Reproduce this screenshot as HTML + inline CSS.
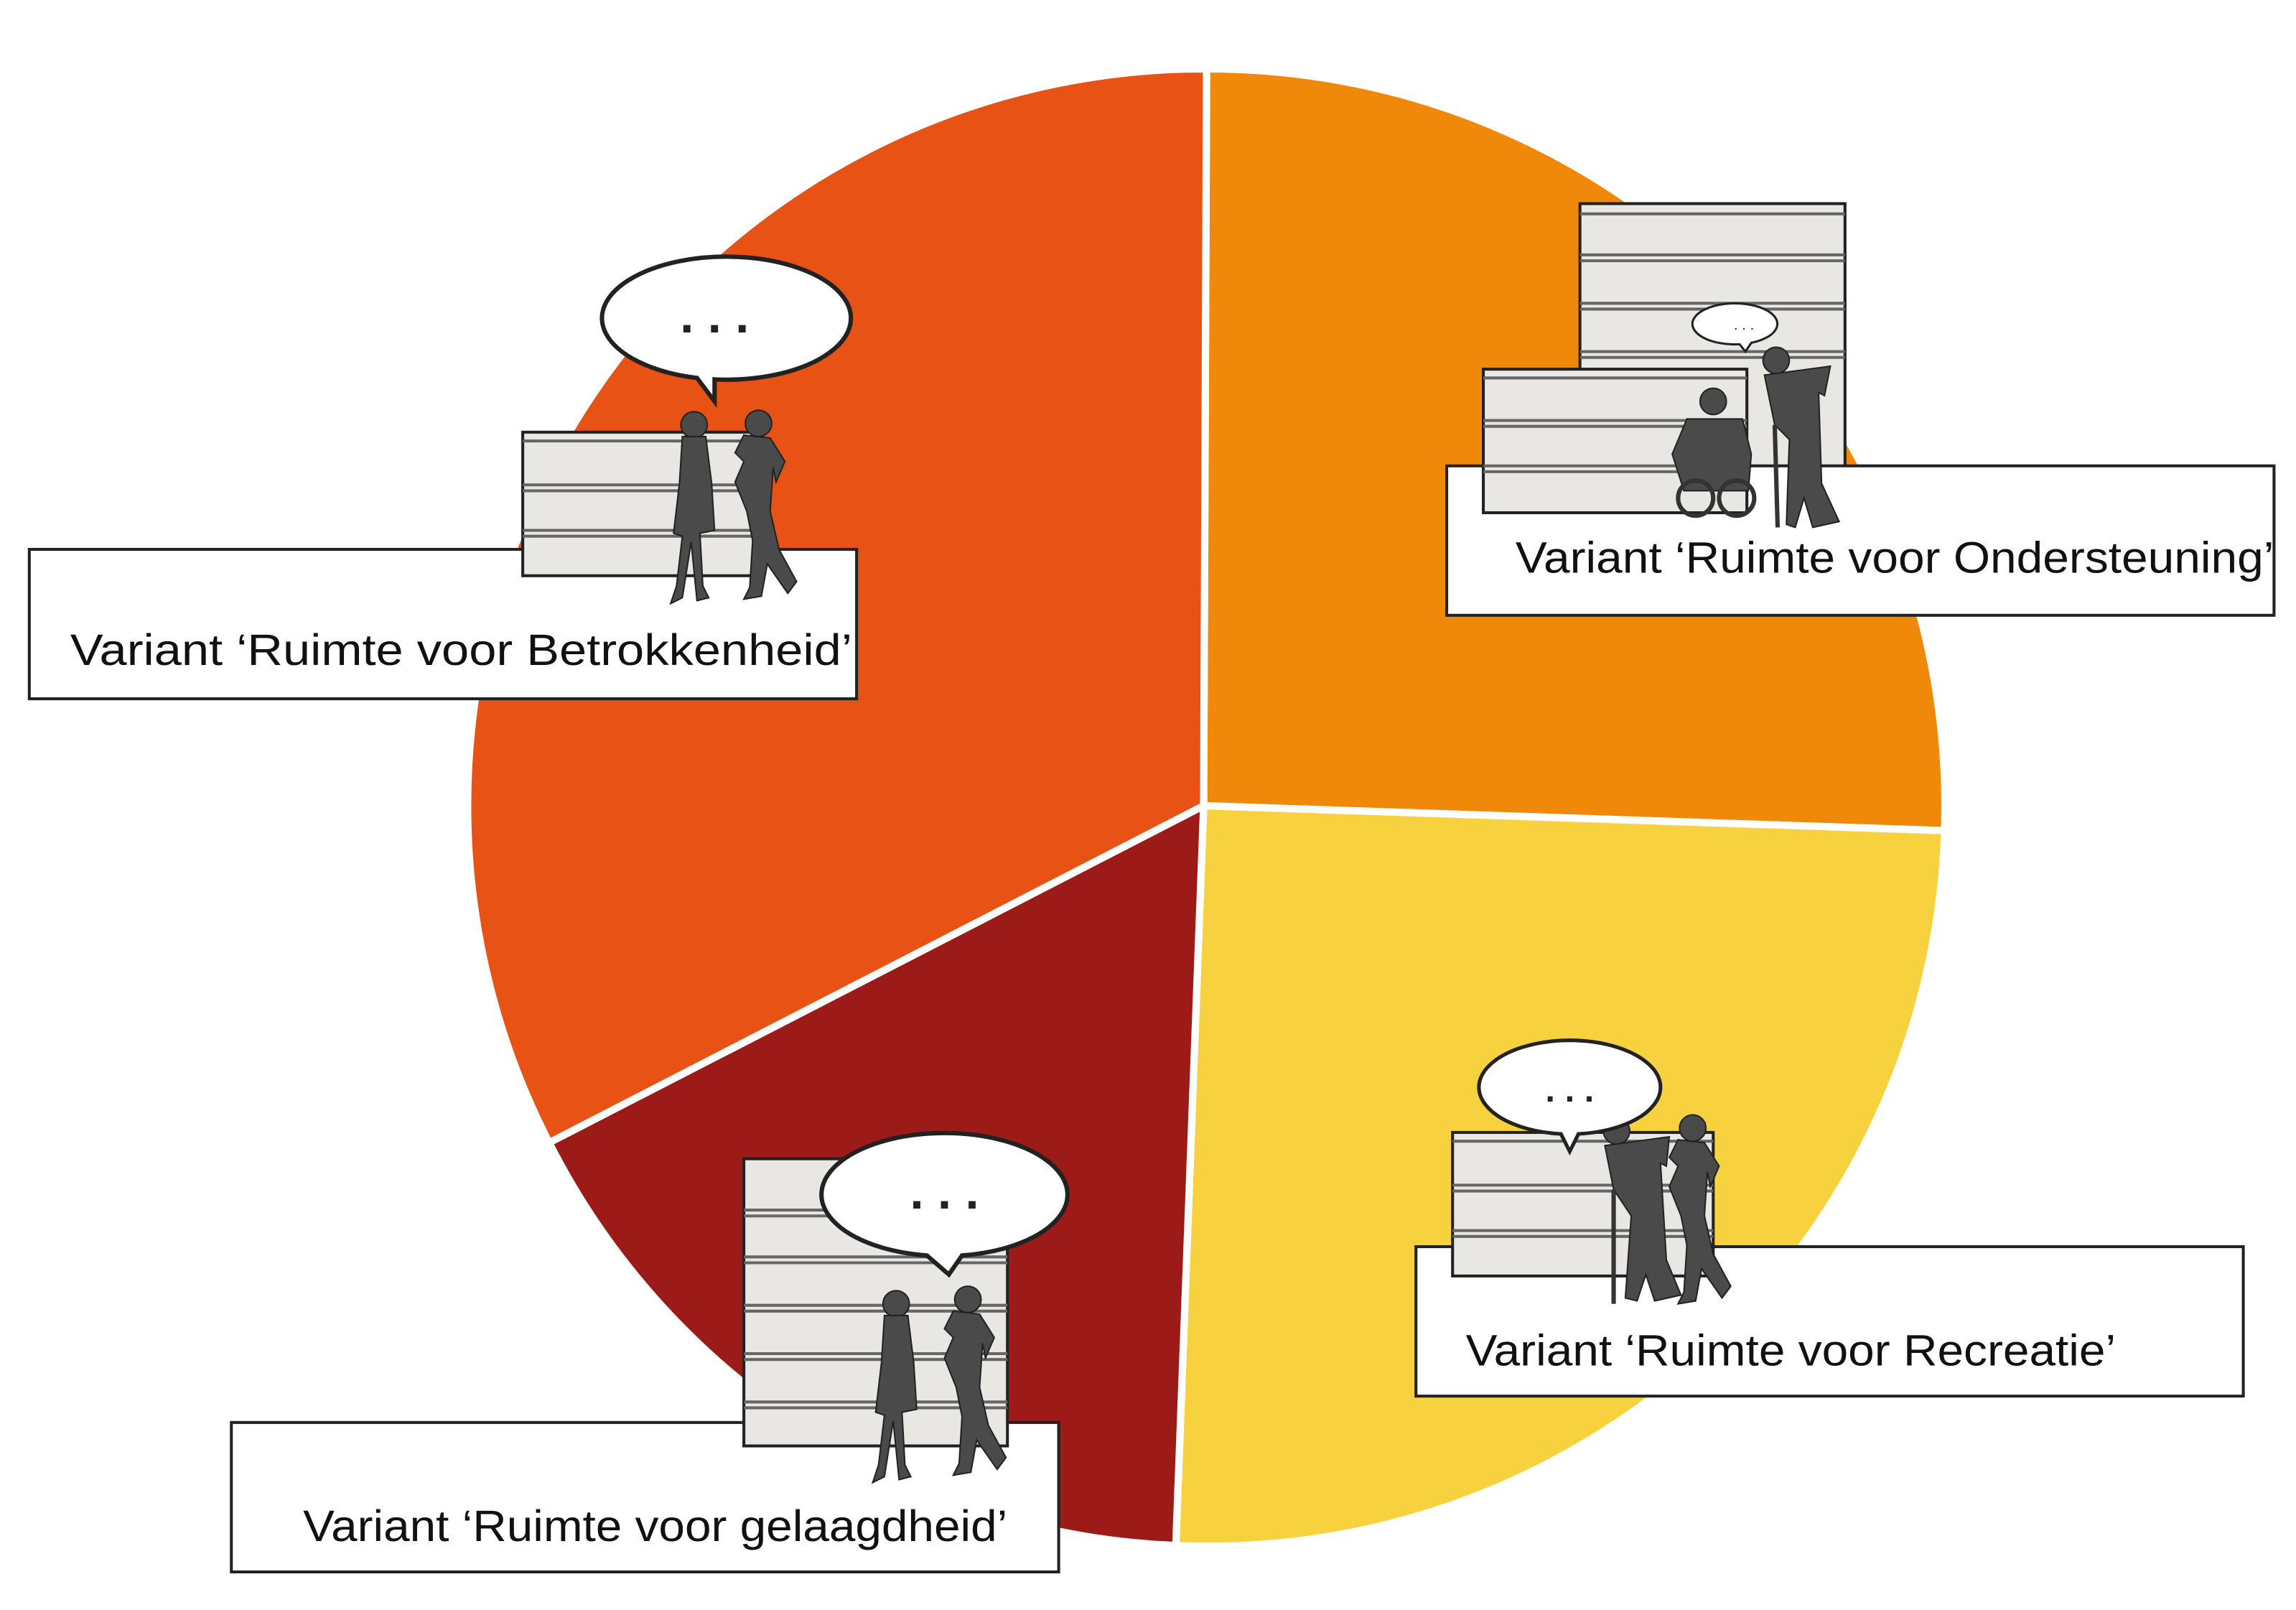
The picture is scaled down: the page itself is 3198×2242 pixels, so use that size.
<!DOCTYPE html>
<html><head><meta charset="utf-8"><style>
html,body{margin:0;padding:0;background:#fff;}
svg{display:block;}
text{font-family:"Liberation Sans",sans-serif;}
</style></head><body>
<svg width="3198" height="2242" viewBox="0 0 1568 1099" preserveAspectRatio="none" xmlns="http://www.w3.org/2000/svg">
<defs>
<g id="person1">
<circle cx="0" cy="0" r="9"/>
<path d="M-8,8 L8,8 L12,40 L14,72 L4,74 L6,110 L10,118 L2,120 L-2,80 L-8,118 L-16,122 L-12,110 L-8,76 L-14,74 L-10,40 Z"/>
</g>
<g id="person2">
<circle cx="0" cy="0" r="9"/>
<path d="M-10,8 L8,10 L18,26 L12,40 L10,30 L8,60 L14,86 L26,108 L20,116 L6,96 L2,118 L-10,120 L-6,112 L-4,80 L-8,60 L-16,40 L-10,26 L-16,20 Z"/>
</g>
</defs>

<g stroke="#fff" stroke-width="5">
<path d="M822,550 L824,47 A503,503 0 0 1 1328,567 Z" fill="#F0880A"/>
<path d="M822,550 L1328,567 A503,503 0 0 1 803,1055 Z" fill="#F8D23E"/>
<path d="M822,550 L803,1055 A503,503 0 0 1 375,780 Z" fill="#9C1A17"/>
<path d="M822,550 L375,780 A503,503 0 0 1 824,47 Z" fill="#E85214"/>
</g>

<!-- Betrokkenheid -->
<rect x="20" y="375" width="565" height="102" fill="#fff" stroke="#222" stroke-width="2"/>
<rect x="357" y="295" width="163" height="98" fill="#E8E7E4" stroke="#222" stroke-width="2"/>
<g stroke="#666" stroke-width="2"><line x1="357" y1="301" x2="520" y2="301"/><line x1="357" y1="331" x2="520" y2="331"/><line x1="357" y1="335" x2="520" y2="335"/><line x1="357" y1="362" x2="520" y2="362"/><line x1="357" y1="366" x2="520" y2="366"/></g>
<g fill="#4A4A4A" stroke="#222" stroke-width="1"><use href="#person1" transform="translate(474,290)"/><use href="#person2" transform="translate(518,289)"/></g>
<path d="M488,259 A85,42 0 1 0 476,258 L488,274 Z" fill="#fff" stroke="#222" stroke-width="3"/>
<text x="488" y="227" font-size="34" font-weight="bold" text-anchor="middle" fill="#222">. . .</text>
<text x="48" y="454" font-size="30" textLength="534" lengthAdjust="spacingAndGlyphs" fill="#111">Variant ‘Ruimte voor Betrokkenheid’</text>

<!-- Ondersteuning -->
<rect x="1079" y="139" width="181" height="181" fill="#E8E7E4" stroke="#222" stroke-width="2"/>
<g stroke="#666" stroke-width="2"><line x1="1079" y1="146" x2="1260" y2="146"/><line x1="1079" y1="174" x2="1260" y2="174"/><line x1="1079" y1="178" x2="1260" y2="178"/><line x1="1079" y1="207" x2="1260" y2="207"/><line x1="1079" y1="211" x2="1260" y2="211"/><line x1="1079" y1="240" x2="1260" y2="240"/><line x1="1079" y1="244" x2="1260" y2="244"/></g>
<rect x="988" y="318" width="565" height="102" fill="#fff" stroke="#222" stroke-width="2"/>
<rect x="1013" y="252" width="180" height="98" fill="#E8E7E4" stroke="#222" stroke-width="2"/>
<g stroke="#666" stroke-width="2"><line x1="1013" y1="258" x2="1193" y2="258"/><line x1="1013" y1="287" x2="1193" y2="287"/><line x1="1013" y1="291" x2="1193" y2="291"/><line x1="1013" y1="318" x2="1193" y2="318"/><line x1="1013" y1="322" x2="1193" y2="322"/></g>
<g fill="#4A4A4A" stroke="#222" stroke-width="1">
<circle cx="1170" cy="274" r="9"/>
<path d="M1152,286 L1190,286 L1196,310 L1194,335 L1150,335 L1142,310 Z"/>
<circle cx="1158" cy="340" r="12" fill="none" stroke="#333" stroke-width="3"/><circle cx="1186" cy="340" r="12" fill="none" stroke="#333" stroke-width="3"/>
<circle cx="1213" cy="246" r="9"/>
<path d="M1205,256 L1250,250 L1246,270 L1242,268 L1244,330 L1256,356 L1238,360 L1232,340 L1226,360 L1220,358 L1222,300 L1212,290 Z"/>
<line x1="1212" y1="290" x2="1214" y2="360" stroke="#333" stroke-width="3"/>
</g>
<path d="M1196,234 A29,14 0 1 0 1188,235 L1192,240 Z" fill="#fff" stroke="#222" stroke-width="1.5"/>
<text x="1191" y="225" font-size="10" text-anchor="middle" fill="#222">. . .</text>
<text x="1035" y="391" font-size="30" textLength="518" lengthAdjust="spacingAndGlyphs" fill="#111">Variant ‘Ruimte voor Ondersteuning’</text>

<!-- Recreatie -->
<rect x="967" y="851" width="565" height="102" fill="#fff" stroke="#222" stroke-width="2"/>
<rect x="992" y="773" width="178" height="98" fill="#E8E7E4" stroke="#222" stroke-width="2"/>
<g stroke="#666" stroke-width="2"><line x1="992" y1="779" x2="1170" y2="779"/><line x1="992" y1="809" x2="1170" y2="809"/><line x1="992" y1="813" x2="1170" y2="813"/><line x1="992" y1="840" x2="1170" y2="840"/><line x1="992" y1="844" x2="1170" y2="844"/></g>
<g fill="#4A4A4A" stroke="#222" stroke-width="1">
<circle cx="1104" cy="772" r="9"/>
<path d="M1096,782 L1140,776 L1138,796 L1134,794 L1138,860 L1148,884 L1130,888 L1124,870 L1118,888 L1110,886 L1114,830 L1102,812 Z"/>
<line x1="1102" y1="812" x2="1102" y2="890" stroke="#333" stroke-width="3"/>
<use href="#person2" transform="translate(1156,770)"/>
</g>
<path d="M1078,774 A62,32 0 1 0 1066,774 L1072,786 Z" fill="#fff" stroke="#222" stroke-width="2.5"/>
<text x="1072" y="752" font-size="24" font-weight="bold" text-anchor="middle" fill="#222">. . .</text>
<text x="1001" y="932" font-size="30" textLength="444" lengthAdjust="spacingAndGlyphs" fill="#111">Variant ‘Ruimte voor Recreatie’</text>

<!-- Gelaagdheid -->
<rect x="158" y="971" width="565" height="102" fill="#fff" stroke="#222" stroke-width="2"/>
<rect x="508" y="791" width="180" height="196" fill="#E8E7E4" stroke="#222" stroke-width="2"/>
<g stroke="#666" stroke-width="2"><line x1="508" y1="826" x2="688" y2="826"/><line x1="508" y1="830" x2="688" y2="830"/><line x1="508" y1="858" x2="688" y2="858"/><line x1="508" y1="862" x2="688" y2="862"/><line x1="508" y1="891" x2="688" y2="891"/><line x1="508" y1="895" x2="688" y2="895"/><line x1="508" y1="924" x2="688" y2="924"/><line x1="508" y1="928" x2="688" y2="928"/><line x1="508" y1="957" x2="688" y2="957"/><line x1="508" y1="961" x2="688" y2="961"/></g>
<g fill="#4A4A4A" stroke="#222" stroke-width="1"><use href="#person1" transform="translate(612,890)"/><use href="#person2" transform="translate(661,887)"/></g>
<path d="M657,857 A84,42 0 1 0 633,857 L648,870 Z" fill="#fff" stroke="#222" stroke-width="3"/>
<text x="645" y="825" font-size="34" font-weight="bold" text-anchor="middle" fill="#222">. . .</text>
<text x="207" y="1052" font-size="30" textLength="481" lengthAdjust="spacingAndGlyphs" fill="#111">Variant ‘Ruimte voor gelaagdheid’</text>
</svg>
</body></html>
